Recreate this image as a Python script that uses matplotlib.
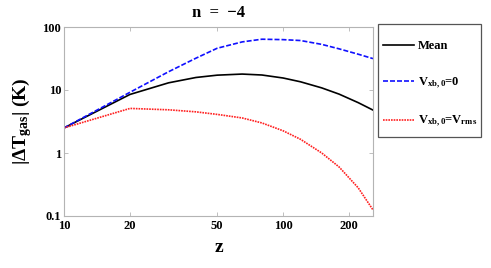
"""|dT_gas| versus redshift for n = -4, three streaming-velocity cases"""

import matplotlib

matplotlib.use("Agg")
import matplotlib.pyplot as plt
from matplotlib.patches import Rectangle
from matplotlib.ticker import FixedLocator, FixedFormatter, NullLocator

# redshift samples
Z = [10, 20, 30, 40, 50, 65, 80, 100, 120, 150, 180, 220, 257]

MEAN = [2.5, 8.5, 13.0, 15.8, 17.2, 17.9, 17.3, 15.5, 13.5, 10.8, 8.6, 6.3, 4.8]
V_ZERO = [2.5, 9.2, 19.5, 32.0, 46.0, 58.0, 64.0, 63.0, 61.0, 53.0, 45.0, 37.0, 31.5]
V_RMS = [2.5, 5.1, 4.85, 4.5, 4.1, 3.6, 3.0, 2.25, 1.65, 1.0, 0.6, 0.28, 0.125]

X_TICKS = [10, 20, 50, 100, 200]
X_TICK_LABELS = ["10", "20", "50", "100", "200"]
Y_TICKS = [0.1, 1, 10, 100]
Y_TICK_LABELS = ["0.1", "1", "10", "100"]

SERIF = "Liberation Serif"
SPINE_COLOR = "#b4b4b4"
W, H = 491, 268

plt.rcParams["font.family"] = SERIF
plt.rcParams["font.weight"] = "bold"
plt.rcParams["mathtext.fontset"] = "custom"
plt.rcParams["mathtext.rm"] = SERIF + ":bold"
plt.rcParams["mathtext.it"] = SERIF + ":bold"
plt.rcParams["mathtext.bf"] = SERIF + ":bold"

figure = plt.figure(figsize=(W / 100, H / 100), dpi=100)
axis = figure.add_axes([64 / W, 1 - 216 / H, 309 / W, 189 / H])

axis.plot(Z, MEAN, color="black", linewidth=1.2, linestyle="-", label="Mean")
axis.plot(Z, V_ZERO, color="#1010ff", linewidth=1.2, linestyle=(0, (3.0, 1.2)),
          label=r"$\mathrm{V_{xb,0}}$=0")
axis.plot(Z, V_RMS, color="#ff2020", linewidth=1.2, linestyle=(0, (1.0, 0.6)),
          label=r"$\mathrm{V_{xb,0}}$=$\mathrm{V_{rms}}$")

axis.set_xscale("log")
axis.set_yscale("log")
axis.set_xlim(10, 257)
axis.set_ylim(0.1, 100)

axis.xaxis.set_major_locator(FixedLocator(X_TICKS))
axis.xaxis.set_major_formatter(FixedFormatter(X_TICK_LABELS))
axis.xaxis.set_minor_locator(NullLocator())
axis.yaxis.set_major_locator(FixedLocator(Y_TICKS))
axis.yaxis.set_major_formatter(FixedFormatter(Y_TICK_LABELS))
axis.yaxis.set_minor_locator(NullLocator())

axis.tick_params(which="both", direction="in", length=3, width=0.6,
                 color=SPINE_COLOR, labelsize=9, pad=2,
                 top=True, right=True)
axis.tick_params(axis="x", pad=3)
for label in axis.get_xticklabels() + axis.get_yticklabels():
    label.set_fontweight("bold")
for spine in axis.spines.values():
    spine.set_color(SPINE_COLOR)
    spine.set_linewidth(0.8)

axis.set_title("n  =  \u22124", fontsize=12, fontweight="bold", pad=7)
axis.set_xlabel("z", fontsize=14, fontweight="bold", labelpad=5)
axis.set_ylabel(r"|$\mathrm{\Delta T_{gas}}$| (K)", fontsize=14,
                fontweight="bold", labelpad=6)

# legend sits outside the axes; the frame is drawn separately so its
# padding can differ horizontally and vertically
legend = axis.legend(loc="upper left", bbox_to_anchor=(383 / W, 1 - 40 / H),
                     bbox_transform=figure.transFigure, frameon=False,
                     fontsize=9, handlelength=2.5, labelspacing=1.85,
                     borderpad=0, handletextpad=0.3, borderaxespad=0)
for text in legend.get_texts():
    text.set_fontweight("bold")
figure.patches.append(
    Rectangle((378 / W, 1 - 137 / H), 103 / W, 113 / H,
              transform=figure.transFigure, fill=False,
              edgecolor="#555555", linewidth=0.9)
)

figure.savefig("out.png", dpi=100)
